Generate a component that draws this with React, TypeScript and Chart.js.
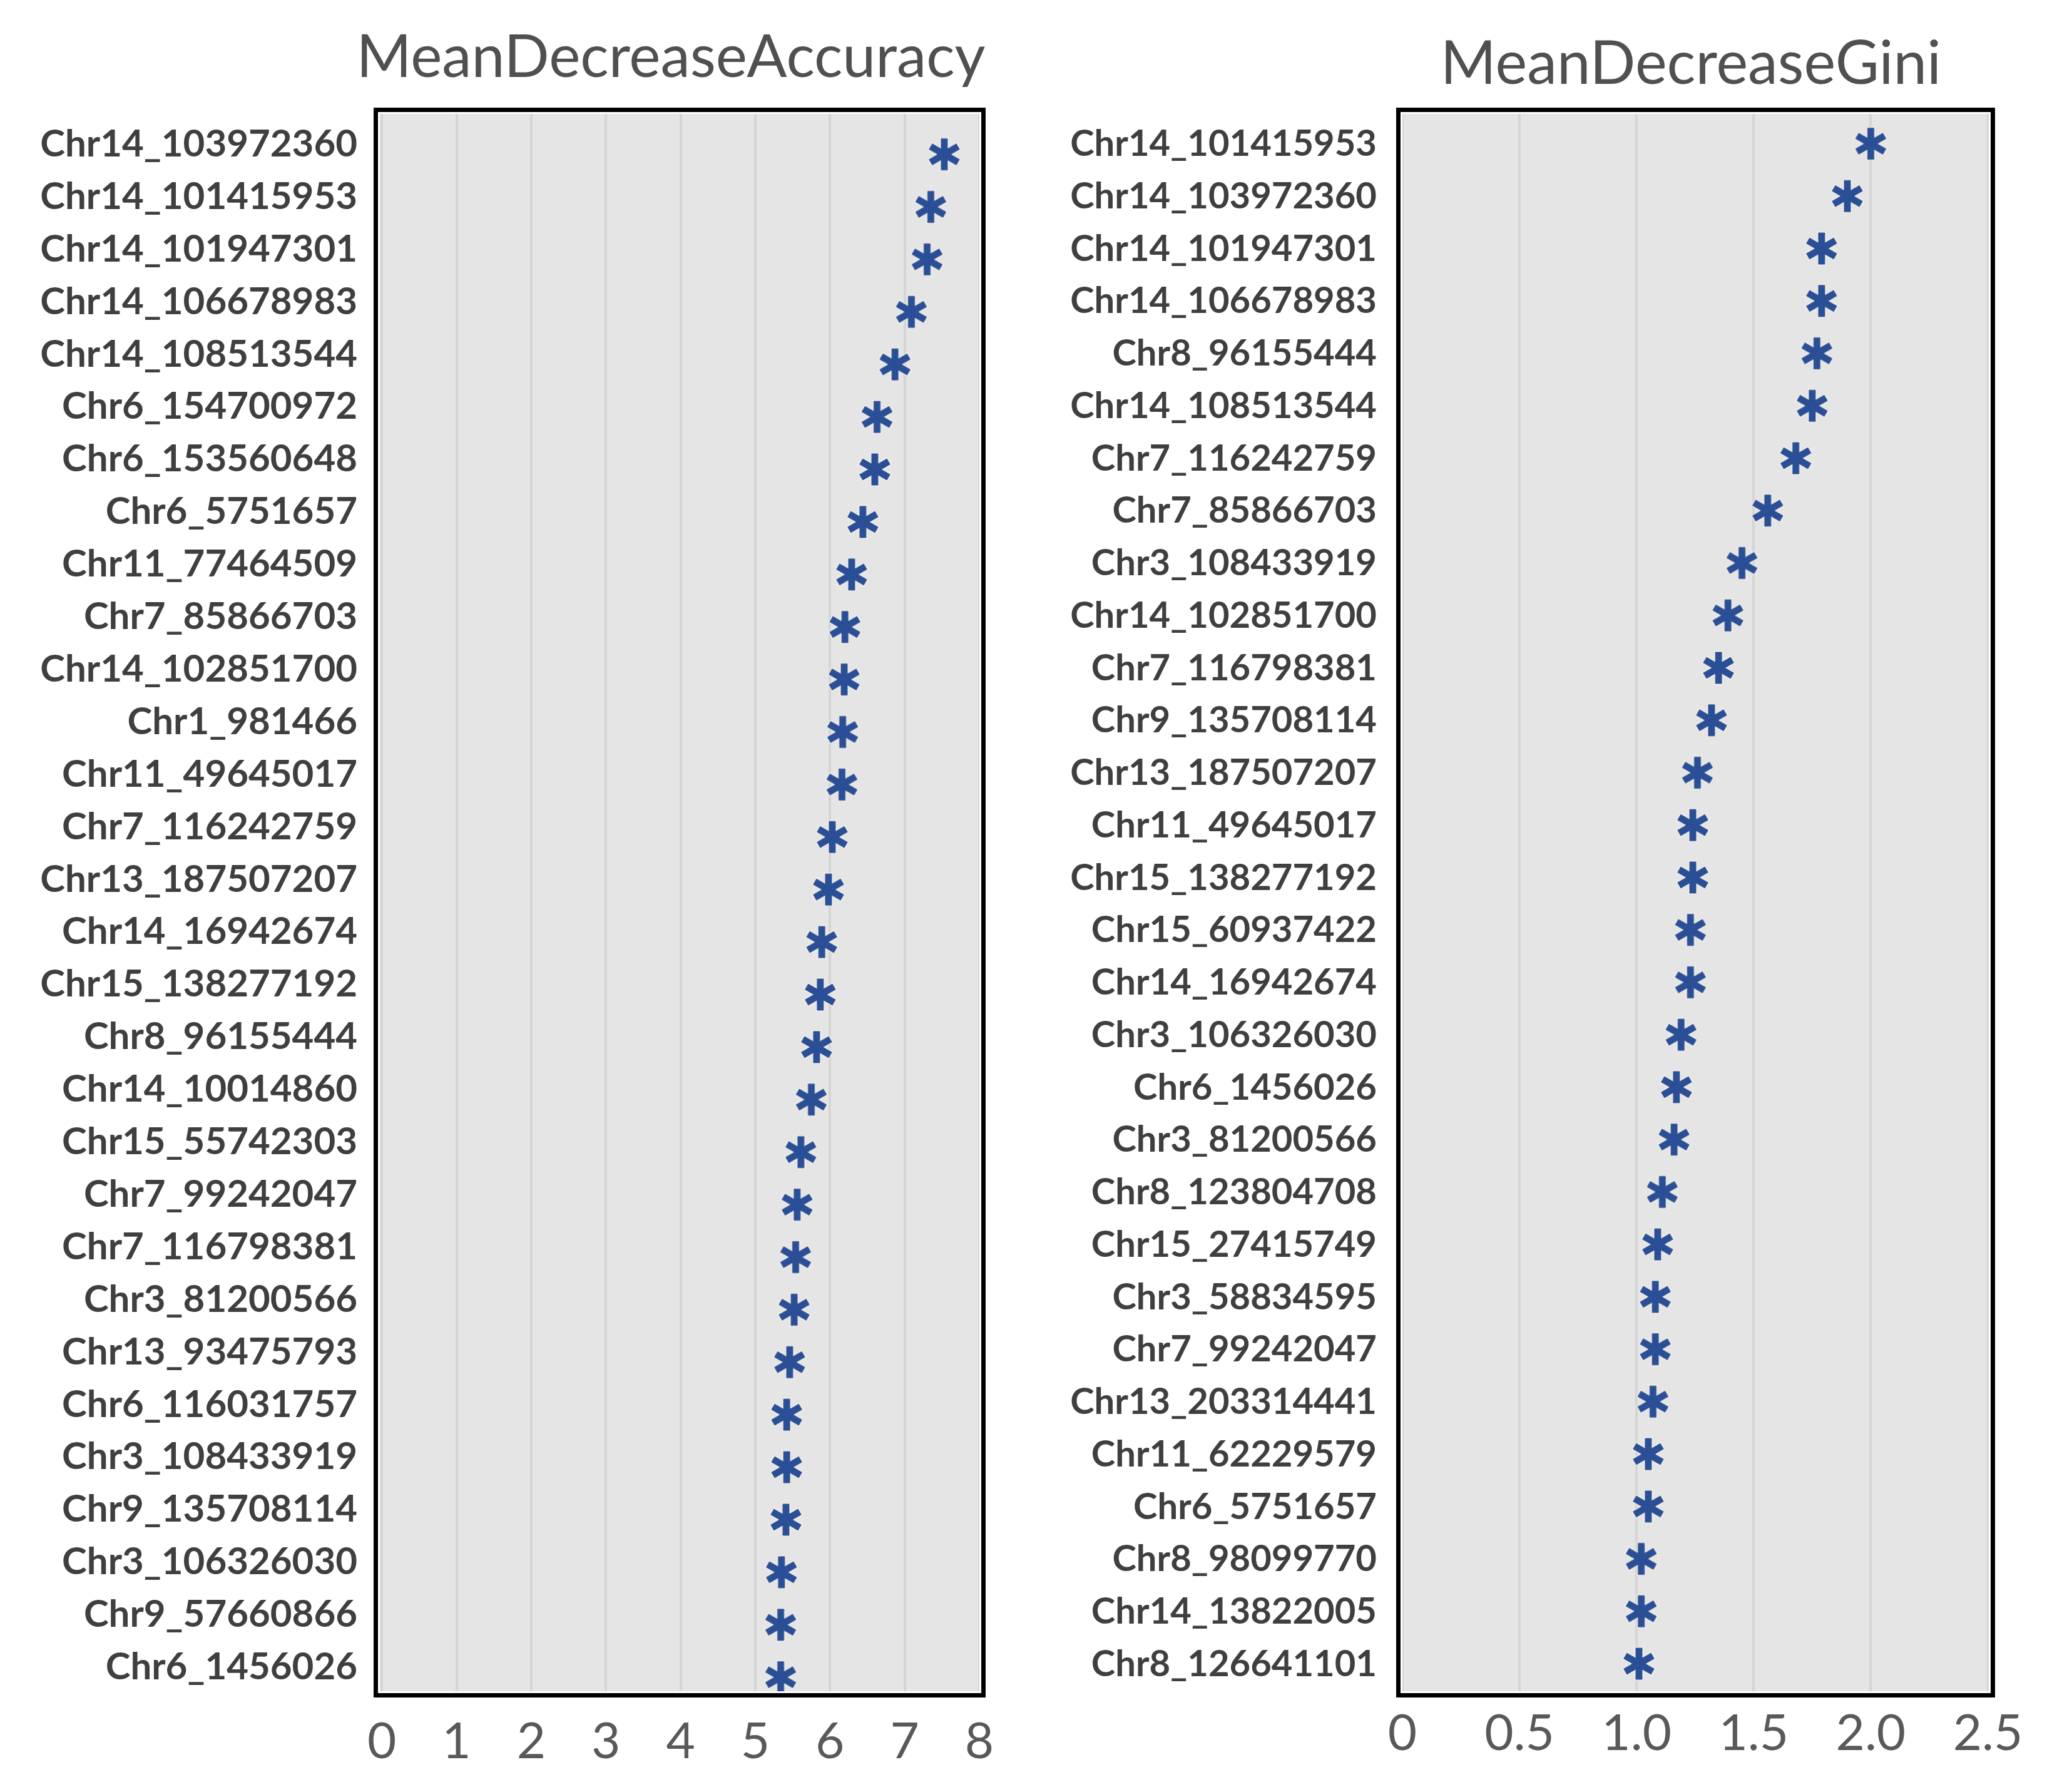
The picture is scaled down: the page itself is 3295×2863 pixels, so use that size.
import React, { useEffect, useRef } from 'react';
import { Chart, registerables } from 'chart.js';

Chart.register(...registerables);

// ---------------- data ----------------
const accuracyTitle = 'MeanDecreaseAccuracy';
const accuracyLabels = [
  'Chr14_103972360', 'Chr14_101415953', 'Chr14_101947301', 'Chr14_106678983', 'Chr14_108513544',
  'Chr6_154700972', 'Chr6_153560648', 'Chr6_5751657', 'Chr11_77464509', 'Chr7_85866703',
  'Chr14_102851700', 'Chr1_981466', 'Chr11_49645017', 'Chr7_116242759', 'Chr13_187507207',
  'Chr14_16942674', 'Chr15_138277192', 'Chr8_96155444', 'Chr14_10014860', 'Chr15_55742303',
  'Chr7_99242047', 'Chr7_116798381', 'Chr3_81200566', 'Chr13_93475793', 'Chr6_116031757',
  'Chr3_108433919', 'Chr9_135708114', 'Chr3_106326030', 'Chr9_57660866', 'Chr6_1456026',
];
const accuracyValues = [
  7.53, 7.35, 7.30, 7.09, 6.87,
  6.63, 6.60, 6.44, 6.29, 6.20,
  6.19, 6.17, 6.16, 6.03, 5.98,
  5.89, 5.87, 5.82, 5.75, 5.61,
  5.56, 5.54, 5.52, 5.46, 5.42,
  5.42, 5.41, 5.35, 5.34, 5.34,
];
const accuracyTicks = [0, 1, 2, 3, 4, 5, 6, 7, 8];

const giniTitle = 'MeanDecreaseGini';
const giniLabels = [
  'Chr14_101415953', 'Chr14_103972360', 'Chr14_101947301', 'Chr14_106678983', 'Chr8_96155444',
  'Chr14_108513544', 'Chr7_116242759', 'Chr7_85866703', 'Chr3_108433919', 'Chr14_102851700',
  'Chr7_116798381', 'Chr9_135708114', 'Chr13_187507207', 'Chr11_49645017', 'Chr15_138277192',
  'Chr15_60937422', 'Chr14_16942674', 'Chr3_106326030', 'Chr6_1456026', 'Chr3_81200566',
  'Chr8_123804708', 'Chr15_27415749', 'Chr3_58834595', 'Chr7_99242047', 'Chr13_203314441',
  'Chr11_62229579', 'Chr6_5751657', 'Chr8_98099770', 'Chr14_13822005', 'Chr8_126641101',
];
const giniValues = [
  2.00, 1.90, 1.79, 1.79, 1.77,
  1.75, 1.68, 1.56, 1.45, 1.39,
  1.35, 1.32, 1.26, 1.24, 1.24,
  1.23, 1.23, 1.19, 1.17, 1.16,
  1.11, 1.09, 1.08, 1.08, 1.07,
  1.05, 1.05, 1.02, 1.02, 1.01,
];
const giniTicks = [0, 0.5, 1, 1.5, 2, 2.5];

// ---------------- styling / layout ----------------
const PAGE_H = 2863;
const MARKER_COLOR = '#2B4F97';
const PANEL_BG = '#E5E5E5';
const GRID_COLOR = '#D5D5D5';

function makeAsterisk(): HTMLCanvasElement {
  const c = document.createElement('canvas');
  const size = 62;
  c.width = size;
  c.height = size;
  const ctx = c.getContext('2d')!;
  const cx = size / 2;
  const cy = size / 2;
  const drawArms = (r: number, w: number, color: string) => {
    ctx.strokeStyle = color;
    ctx.lineWidth = w;
    ctx.lineCap = 'butt';
    [90, 30, -30].forEach((deg) => {
      const a = (deg * Math.PI) / 180;
      const dx = Math.cos(a) * r;
      const dy = Math.sin(a) * r;
      ctx.beginPath();
      ctx.moveTo(cx - dx, cy - dy);
      ctx.lineTo(cx + dx, cy + dy);
      ctx.stroke();
    });
  };
  drawArms(27, 14, 'rgba(250,246,232,0.85)');
  drawArms(25.5, 11, MARKER_COLOR);
  return c;
}

type PanelCfg = {
  title: string;
  labels: string[];
  values: number[];
  ticks: number[];
  tickFormat: (v: number) => string;
  pageLeft: number;
  width: number;
  chartLeft: number;
  chartRight: number;
  chartTop: number;
  chartBottom: number;
  xMin: number;
  xMax: number;
  yMin: number;
  yMax: number;
  labelOffset: number;
  labelPadding: number;
  labelSize: number;
  tickSize: number;
  tickPadding: number;
  titleX: number;
  titleBaseline: number;
  titleSize: number;
};

const panels: PanelCfg[] = [
  {
    title: accuracyTitle,
    labels: accuracyLabels,
    values: accuracyValues,
    ticks: accuracyTicks,
    tickFormat: (v) => String(v),
    pageLeft: 0,
    width: 1640,
    chartLeft: 607,
    chartRight: 1565,
    chartTop: 182,
    chartBottom: 2702,
    xMin: -0.027,
    xMax: 8,
    yMin: -0.77,
    yMax: 29.266,
    labelOffset: -16,
    labelPadding: 36,
    labelSize: 60,
    tickSize: 80,
    tickPadding: 33,
    titleX: 1072,
    titleBaseline: 123,
    titleSize: 95,
  },
  {
    title: giniTitle,
    labels: giniLabels,
    values: giniValues,
    ticks: giniTicks,
    tickFormat: (v) => (v === 0 ? '0' : v.toFixed(1)),
    pageLeft: 1640,
    width: 1655,
    chartLeft: 601,
    chartRight: 1538,
    chartTop: 182,
    chartBottom: 2702,
    xMin: 0,
    xMax: 2.504,
    yMin: -0.568,
    yMax: 29.525,
    labelOffset: 1,
    labelPadding: 41,
    labelSize: 58,
    tickSize: 80,
    tickPadding: 20,
    titleX: 1062,
    titleBaseline: 134,
    titleSize: 96,
  },
];

function Panel({ cfg, marker }: { cfg: PanelCfg; marker: HTMLCanvasElement }) {
  const ref = useRef<HTMLCanvasElement | null>(null);

  useEffect(() => {
    if (!ref.current) return;

    const framePlugin = {
      id: 'panelFrame',
      beforeDraw(chart: any) {
        const { ctx, chartArea } = chart;
        ctx.save();
        ctx.fillStyle = PANEL_BG;
        ctx.fillRect(chartArea.left, chartArea.top, chartArea.right - chartArea.left, chartArea.bottom - chartArea.top);
        ctx.restore();
      },
      afterDraw(chart: any) {
        const { ctx, chartArea } = chart;
        const l = chartArea.left;
        const t = chartArea.top;
        const w = chartArea.right - chartArea.left;
        const h = chartArea.bottom - chartArea.top;
        ctx.save();
        ctx.strokeStyle = '#FFFFFF';
        ctx.lineWidth = 3;
        ctx.strokeRect(l - 1.5, t - 1.5, w + 3, h + 3);
        ctx.strokeStyle = '#000000';
        ctx.lineWidth = 7;
        ctx.strokeRect(l - 6.5, t - 6.5, w + 13, h + 13);
        // title
        ctx.fillStyle = '#505050';
        ctx.font = `${cfg.titleSize}px Lato`;
        ctx.textAlign = 'center';
        ctx.textBaseline = 'alphabetic';
        ctx.fillText(cfg.title, cfg.titleX, cfg.titleBaseline);
        ctx.restore();
      },
    };

    const chart = new Chart(ref.current, {
      type: 'scatter',
      data: {
        datasets: [
          {
            data: cfg.values.map((v, i) => ({ x: v, y: i })),
            pointStyle: marker as any,
            pointRadius: 22,
            pointHoverRadius: 22,
            backgroundColor: MARKER_COLOR,
            borderColor: MARKER_COLOR,
            showLine: false,
            clip: false as any,
          },
        ],
      },
      options: {
        animation: false,
        responsive: false,
        devicePixelRatio: 1,
        events: [],
        layout: {
          padding: { top: cfg.chartTop, left: 0, right: cfg.width - cfg.chartRight, bottom: 0 },
        },
        plugins: {
          legend: { display: false },
          tooltip: { enabled: false },
          title: { display: false },
        },
        scales: {
          x: {
            type: 'linear',
            position: 'bottom',
            min: cfg.xMin,
            max: cfg.xMax,
            afterBuildTicks: (scale: any) => {
              scale.ticks = cfg.ticks.map((v) => ({ value: v }));
            },
            afterFit: (scale: any) => {
              scale.height = PAGE_H - cfg.chartBottom;
              scale.paddingLeft = 0;
              scale.paddingRight = 0;
            },
            grid: {
              color: GRID_COLOR,
              lineWidth: 4,
              drawTicks: false,
            },
            border: { display: false },
            ticks: {
              autoSkip: false,
              maxRotation: 0,
              padding: cfg.tickPadding,
              color: '#595959',
              font: { family: 'Lato', size: cfg.tickSize, lineHeight: 1.2 },
              callback: (v: any) => cfg.tickFormat(Number(v)),
            },
          },
          y: {
            type: 'linear',
            position: 'left',
            reverse: true,
            min: cfg.yMin,
            max: cfg.yMax,
            afterBuildTicks: (scale: any) => {
              scale.ticks = cfg.labels.map((_, i) => ({ value: i }));
            },
            afterFit: (scale: any) => {
              scale.width = cfg.chartLeft;
              scale.paddingTop = 0;
              scale.paddingBottom = 0;
            },
            grid: { display: false, drawTicks: false },
            border: { display: false },
            ticks: {
              autoSkip: false,
              padding: cfg.labelPadding,
              labelOffset: cfg.labelOffset,
              color: '#3F3F3F',
              font: { family: 'Lato', size: cfg.labelSize, weight: 'bold', lineHeight: 1.2 },
              callback: (v: any) => cfg.labels[Math.round(Number(v))] ?? '',
            },
          },
        },
      } as any,
      plugins: [framePlugin],
    });

    return () => {
      chart.destroy();
    };
  }, [cfg, marker]);

  return (
    <canvas
      ref={ref}
      width={cfg.width}
      height={PAGE_H}
      style={{ position: 'absolute', left: cfg.pageLeft, top: 0, width: cfg.width, height: PAGE_H }}
    />
  );
}

export default function App() {
  const markerRef = useRef<HTMLCanvasElement | null>(null);
  if (!markerRef.current && typeof document !== 'undefined') {
    markerRef.current = makeAsterisk();
  }
  return (
    <div style={{ position: 'absolute', left: 0, top: 0, width: 3295, height: PAGE_H, background: '#FFFFFF', overflow: 'hidden' }}>
      {panels.map((p) => (
        <Panel key={p.title} cfg={p} marker={markerRef.current!} />
      ))}
    </div>
  );
}
